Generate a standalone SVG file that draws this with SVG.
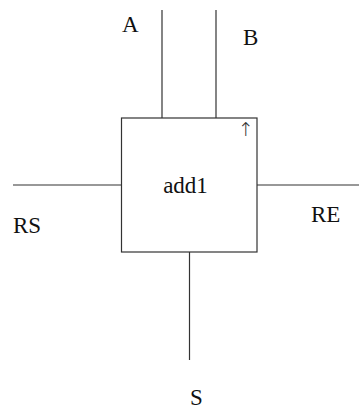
<svg xmlns="http://www.w3.org/2000/svg" width="359" height="410" viewBox="0 0 359 410">
<style>
.l{stroke:#333;stroke-width:1.2;fill:none}
.t{font-family:"Liberation Serif","Times New Roman",serif;font-size:23px;fill:#111}
</style>
<rect width="359" height="410" fill="#fff"/>
<g id="connectors">
<line class="l" x1="162" y1="10" x2="162" y2="118"/>
<line class="l" x1="216" y1="10" x2="216" y2="118"/>
<line class="l" x1="13" y1="185" x2="121.5" y2="185"/>
<line class="l" x1="257" y1="185" x2="359" y2="185"/>
<line class="l" x1="189.5" y1="252" x2="189.5" y2="360"/>
</g>
<g id="add1">
<rect class="l" x="121.5" y="118" width="135.5" height="134"/>
<text class="t" x="185.5" y="193" text-anchor="middle">add1</text>
<text x="246" y="136" text-anchor="middle" font-family="DejaVu Sans, sans-serif" font-size="19" font-weight="200" fill="#333">↑</text>
</g>
<g id="labels">
<text class="t" x="122" y="32">A</text>
<text class="t" x="243" y="45">B</text>
<text class="t" x="13" y="233">RS</text>
<text class="t" x="311" y="222">RE</text>
<text class="t" x="190" y="405">S</text>
</g>
</svg>
